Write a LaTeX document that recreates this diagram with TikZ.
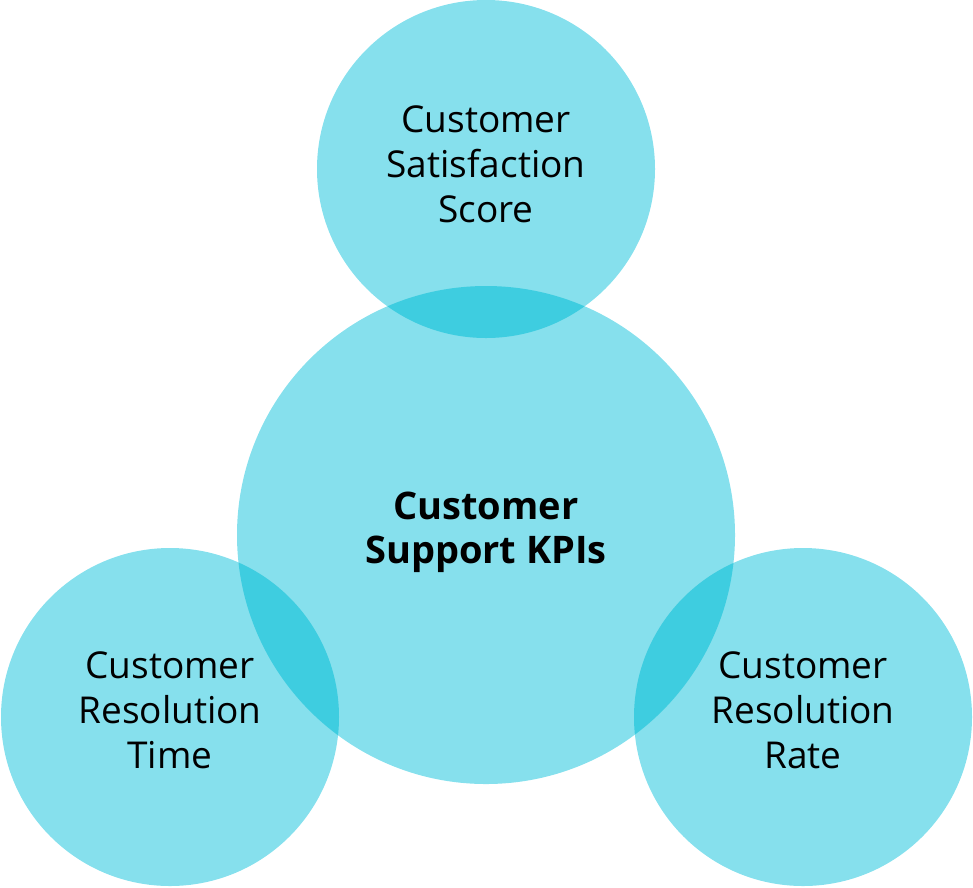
\documentclass[tikz,border=0pt]{standalone}
\usepackage{fontspec}
\setmainfont{Open Sans}
\definecolor{lightc}{RGB}{134,224,237}
\definecolor{darkc}{RGB}{62,205,224}
\begin{document}
\begin{tikzpicture}[x=1pt,y=-1pt,
  blob/.style={circle,fill=lightc,inner sep=0pt,minimum size=#1},
  lbl/.style={align=center,anchor=base,inner sep=0pt,font=\fontsize{37}{45}\selectfont}]
\useasboundingbox (0,0) rectangle (973,887);
\node[blob=498pt] (kpi) at (486,535) {};
\node[blob=338pt] (csat) at (486,169) {};
\node[blob=338pt] (crt) at (170,717) {};
\node[blob=338pt] (crr) at (803,717) {};
\foreach \c in {csat,crt,crr}{
  \begin{scope}
    \clip (\c.center) circle (169);
    \fill[darkc] (kpi.center) circle (249);
  \end{scope}
}
\node[lbl] (tcsat) at (486,222) {Customer\\Satisfaction\\Score};
\node[lbl,font=\fontsize{38}{44}\selectfont\bfseries] (tkpi) at (486,563) {Customer\\Support KPIs};
\node[lbl] (tcrt) at (170,768) {Customer\\Resolution\\Time};
\node[lbl] (tcrr) at (803,768) {Customer\\Resolution\\Rate};
\end{tikzpicture}
\end{document}
